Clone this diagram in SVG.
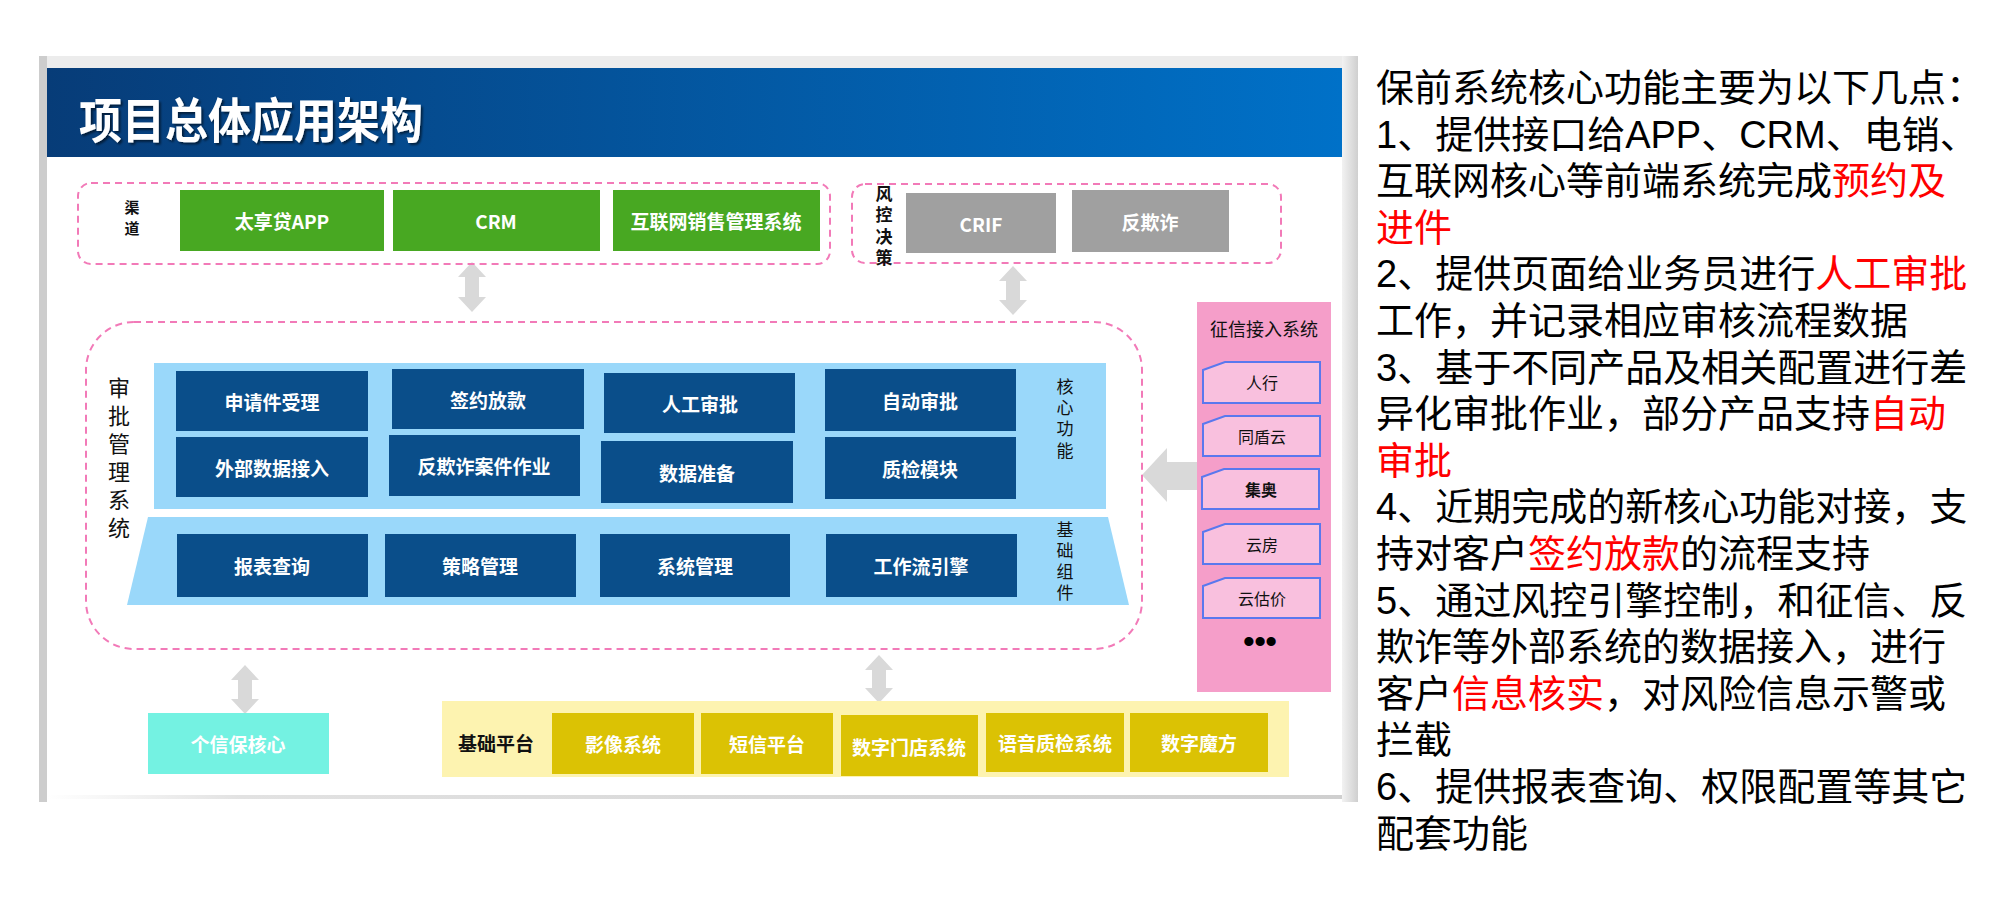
<svg xmlns="http://www.w3.org/2000/svg" width="2002" height="916" viewBox="0 0 2002 916">
<defs>
<linearGradient id="hdr" x1="0" y1="0" x2="1" y2="0">
<stop offset="0" stop-color="#073c78"/>
<stop offset="1" stop-color="#0071c8"/>
</linearGradient>
<linearGradient id="rgray" x1="0" y1="0" x2="1" y2="0">
<stop offset="0" stop-color="#f2f2f2"/>
<stop offset="1" stop-color="#cfcfcf"/>
</linearGradient>
<linearGradient id="bshadow" x1="0" y1="0" x2="1" y2="0">
<stop offset="0" stop-color="#ffffff"/>
<stop offset="0.15" stop-color="#e2e2e2"/>
<stop offset="1" stop-color="#cfcfcf"/>
</linearGradient>
<filter id="tshadow" x="-5%" y="-20%" width="110%" height="140%">
<feDropShadow dx="2" dy="2" stdDeviation="1" flood-color="#000000" flood-opacity="0.55"/>
</filter>
<style>
.dash{fill:none;stroke:#f27ab8;stroke-width:2;stroke-dasharray:7 5}
.green{fill:#48a822}
.grey{fill:#a0a0a0}
.dark{fill:#0a4e8a}
.teal{fill:#74f2e2}
.mustard{fill:#dbc204}
.item{fill:#f9c0de;stroke:#5a78ee;stroke-width:2}
.arrow{fill:#d9d9d9}
.wt{font-family:"Noto Sans CJK SC","Noto Sans",sans-serif;font-weight:bold;font-size:19px;fill:#ffffff;text-anchor:middle;dominant-baseline:central}
.bk{font-family:"Liberation Sans","Noto Sans CJK SC",sans-serif;fill:#111111;text-anchor:middle;dominant-baseline:central}
.rt{font-family:"Liberation Sans Narrow","Liberation Sans","Noto Sans CJK SC",sans-serif;font-size:38px;fill:#000000}
.red{fill:#ff0000}
</style>
</defs>
<rect width="2002" height="916" fill="#ffffff"/>
<g id="slide-frame">
<rect x="39" y="56" width="1319" height="746" fill="#ececec"/>
<rect x="39" y="56" width="8" height="746" fill="#cdcdcd"/>
<rect x="1342" y="56" width="16" height="746" fill="url(#rgray)"/>
<rect x="47" y="68" width="1295" height="734" fill="#ffffff"/>
<rect x="47" y="795" width="1295" height="4" fill="url(#bshadow)"/>
</g>
<g id="header">
<rect x="47" y="68" width="1295" height="89" fill="url(#hdr)"/>
<text x="79" y="138" font-family="Noto Sans CJK SC, sans-serif" font-weight="bold" font-size="48" fill="#ffffff" textLength="344" lengthAdjust="spacingAndGlyphs" filter="url(#tshadow)">项目总体应用架构</text>
</g>
<g id="connectors">
<path class="arrow" d="M472,262 L486,277 L479,277 L479,297 L486,297 L472,312 L458,297 L465,297 L465,277 L458,277 Z"/>
<path class="arrow" d="M1013,266 L1027,281 L1020,281 L1020,300 L1027,300 L1013,315 L999,300 L1006,300 L1006,281 L999,281 Z"/>
<path class="arrow" d="M245,665 L259,680 L252,680 L252,699 L259,699 L245,714 L231,699 L238,699 L238,680 L231,680 Z"/>
<path class="arrow" d="M879,655 L893,670 L886,670 L886,688 L893,688 L879,703 L865,688 L872,688 L872,670 L865,670 Z"/>
<path class="arrow" d="M1142,475 L1167,448 L1167,462 L1198,462 L1198,490 L1167,490 L1167,502 Z"/>
</g>
<g id="channel">
<rect class="dash" x="78" y="183" width="752" height="81" rx="13"/>
<text class="bk" font-size="15" font-weight="bold"><tspan x="132" y="207">渠</tspan><tspan x="132" y="228">道</tspan></text>
</g>
<g id="node-taixiangdai"><rect class="green" x="180" y="190" width="204" height="61"/><text class="wt" x="282" y="220">太享贷APP</text></g>
<g id="node-crm"><rect class="green" x="393" y="190" width="207" height="61"/><text class="wt" x="496" y="220">CRM</text></g>
<g id="node-internet-sales"><rect class="green" x="613" y="190" width="207" height="61"/><text class="wt" x="716" y="220">互联网销售管理系统</text></g>
<g id="risk-decision">
<rect class="dash" x="852" y="184" width="429" height="79" rx="13"/>
<text class="bk" font-size="17" font-weight="bold"><tspan x="884" y="194">风</tspan><tspan x="884" y="215">控</tspan><tspan x="884" y="237">决</tspan><tspan x="884" y="258">策</tspan></text>
</g>
<g id="node-crif"><rect class="grey" x="906" y="193" width="150" height="60"/><text class="wt" x="981" y="223">CRIF</text></g>
<g id="node-antifraud"><rect class="grey" x="1072" y="190" width="157" height="62"/><text class="wt" x="1150" y="221">反欺诈</text></g>
<g id="approval-system">
<rect class="dash" x="86" y="322" width="1056" height="327" rx="48"/>
<text class="bk" font-size="22"><tspan x="119" y="388">审</tspan><tspan x="119" y="416">批</tspan><tspan x="119" y="444">管</tspan><tspan x="119" y="472">理</tspan><tspan x="119" y="500">系</tspan><tspan x="119" y="528">统</tspan></text>
</g>
<g id="core-functions">
<rect x="154" y="363" width="952" height="146" fill="#9ad8fa"/>
<text class="bk" font-size="17"><tspan x="1065" y="387">核</tspan><tspan x="1065" y="408">心</tspan><tspan x="1065" y="429">功</tspan><tspan x="1065" y="451">能</tspan></text>
</g>
<g id="basic-components">
<polygon points="148,517 1108,517 1129,605 127,605" fill="#9ad8fa"/>
<text class="bk" font-size="17"><tspan x="1065" y="530">基</tspan><tspan x="1065" y="551">础</tspan><tspan x="1065" y="572">组</tspan><tspan x="1065" y="593">件</tspan></text>
</g>
<g id="node-application"><rect class="dark" x="176" y="371" width="192" height="60"/><text class="wt" x="272" y="401">申请件受理</text></g>
<g id="node-signing"><rect class="dark" x="392" y="369" width="192" height="60"/><text class="wt" x="488" y="399">签约放款</text></g>
<g id="node-manual"><rect class="dark" x="604" y="373" width="191" height="60"/><text class="wt" x="700" y="403">人工审批</text></g>
<g id="node-auto"><rect class="dark" x="825" y="369" width="191" height="62"/><text class="wt" x="920" y="400">自动审批</text></g>
<g id="node-external-data"><rect class="dark" x="176" y="437" width="192" height="60"/><text class="wt" x="272" y="467">外部数据接入</text></g>
<g id="node-fraud-case"><rect class="dark" x="389" y="435" width="191" height="61"/><text class="wt" x="484" y="465">反欺诈案件作业</text></g>
<g id="node-data-prep"><rect class="dark" x="601" y="441" width="192" height="62"/><text class="wt" x="697" y="472">数据准备</text></g>
<g id="node-qc"><rect class="dark" x="825" y="437" width="191" height="62"/><text class="wt" x="920" y="468">质检模块</text></g>
<g id="node-report"><rect class="dark" x="177" y="534" width="191" height="63"/><text class="wt" x="272" y="565">报表查询</text></g>
<g id="node-strategy"><rect class="dark" x="385" y="534" width="191" height="63"/><text class="wt" x="480" y="565">策略管理</text></g>
<g id="node-sysmgmt"><rect class="dark" x="600" y="534" width="190" height="63"/><text class="wt" x="695" y="565">系统管理</text></g>
<g id="node-workflow"><rect class="dark" x="826" y="534" width="191" height="63"/><text class="wt" x="921" y="565">工作流引擎</text></g>
<g id="credit-access">
<rect x="1197" y="302" width="134" height="390" fill="#f59ec9"/>
<text class="bk" x="1264" y="330" font-size="18">征信接入系统</text>
<text x="1260" y="652" font-family="Liberation Sans, sans-serif" font-weight="bold" font-size="32" fill="#000000" text-anchor="middle">•••</text>
</g>
<g id="node-pboc"><path class="item" d="M1203,370 L1225,362 L1320,362 L1320,403 L1203,403 Z"/><text class="bk" x="1262" y="383" font-size="16">人行</text></g>
<g id="node-tongdun"><path class="item" d="M1203,424 L1225,416 L1320,416 L1320,456 L1203,456 Z"/><text class="bk" x="1262" y="437" font-size="16">同盾云</text></g>
<g id="node-jiao"><path class="item" d="M1202,477 L1224,469 L1319,469 L1319,509 L1202,509 Z"/><text class="bk" x="1261" y="490" font-size="16" font-weight="bold">集奥</text></g>
<g id="node-yunfang"><path class="item" d="M1203,532 L1225,524 L1320,524 L1320,564 L1203,564 Z"/><text class="bk" x="1262" y="545" font-size="16">云房</text></g>
<g id="node-yungujia"><path class="item" d="M1203,586 L1225,578 L1320,578 L1320,618 L1203,618 Z"/><text class="bk" x="1262" y="599" font-size="16">云估价</text></g>
<g id="node-personal-core"><rect class="teal" x="148" y="713" width="181" height="61"/><text class="wt" x="238" y="743">个信保核心</text></g>
<g id="base-platform">
<rect x="442" y="701" width="847" height="76" fill="#fdf3b0"/>
<text class="bk" x="496" y="744" font-size="19" font-weight="bold">基础平台</text>
</g>
<g id="node-image"><rect class="mustard" x="552" y="713" width="142" height="61"/><text class="wt" x="623" y="743">影像系统</text></g>
<g id="node-sms"><rect class="mustard" x="701" y="713" width="132" height="61"/><text class="wt" x="767" y="743">短信平台</text></g>
<g id="node-digital-store"><rect class="mustard" x="841" y="715" width="137" height="61"/><text class="wt" x="909" y="746">数字门店系统</text></g>
<g id="node-voice-qc"><rect class="mustard" x="986" y="713" width="138" height="59"/><text class="wt" x="1055" y="742">语音质检系统</text></g>
<g id="node-digital-cube"><rect class="mustard" x="1130" y="713" width="138" height="59"/><text class="wt" x="1199" y="742">数字魔方</text></g>
<g id="description">
<text class="rt"><tspan x="1376" y="101">保前系统核心功能主要为以下几点：</tspan><tspan x="1376" y="147.6">1、提供接口给APP、CRM、电销、</tspan><tspan x="1376" y="194.2">互联网核心等前端系统完成</tspan><tspan class="red">预约及</tspan><tspan class="red" x="1376" y="240.8">进件</tspan><tspan x="1376" y="287.4">2、提供页面给业务员进行</tspan><tspan class="red">人工审批</tspan><tspan x="1376" y="334">工作，并记录相应审核流程数据</tspan><tspan x="1376" y="380.6">3、基于不同产品及相关配置进行差</tspan><tspan x="1376" y="427.2">异化审批作业，部分产品支持</tspan><tspan class="red">自动</tspan><tspan class="red" x="1376" y="473.8">审批</tspan><tspan x="1376" y="520.4">4、近期完成的新核心功能对接，支</tspan><tspan x="1376" y="567">持对客户</tspan><tspan class="red">签约放款</tspan><tspan>的流程支持</tspan><tspan x="1376" y="613.6">5、通过风控引擎控制，和征信、反</tspan><tspan x="1376" y="660.2">欺诈等外部系统的数据接入，进行</tspan><tspan x="1376" y="706.8">客户</tspan><tspan class="red">信息核实</tspan><tspan>，对风险信息示警或</tspan><tspan x="1376" y="753.4">拦截</tspan><tspan x="1376" y="800">6、提供报表查询、权限配置等其它</tspan><tspan x="1376" y="846.6">配套功能</tspan></text>
</g>
</svg>
